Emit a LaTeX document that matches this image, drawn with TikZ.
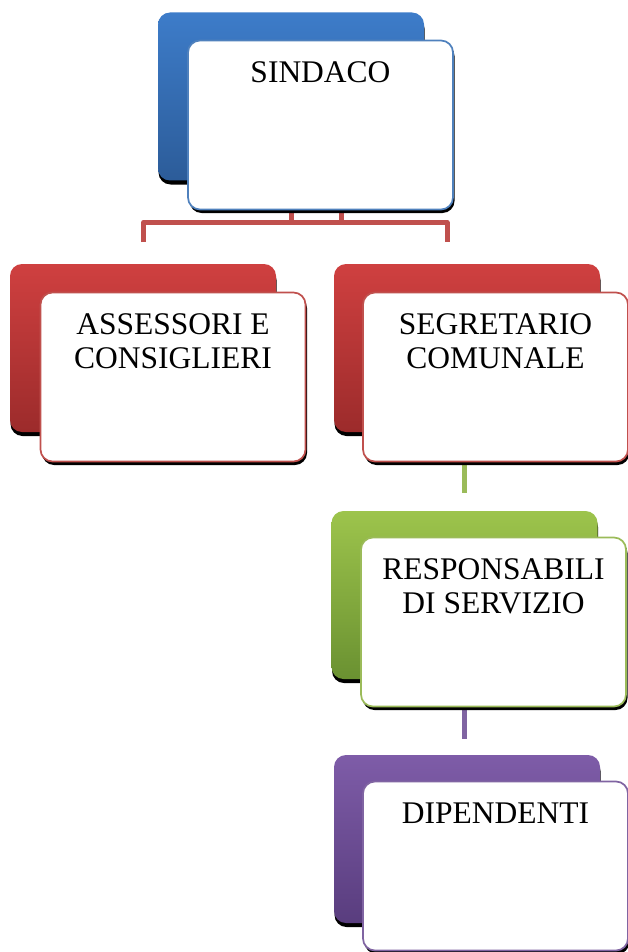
\documentclass[tikz,border=0pt]{standalone}
\usepackage{fontspec}
\setmainfont{Liberation Serif}
\usetikzlibrary{positioning}
\usetikzlibrary{shadows}
\usetikzlibrary{backgrounds}

\definecolor{blueline}{HTML}{4F81BD}
\definecolor{bluetop}{HTML}{3D7CC9}
\definecolor{bluebot}{HTML}{2C5C99}
\definecolor{redline}{HTML}{C0504D}
\definecolor{redtop}{HTML}{CF4040}
\definecolor{redbot}{HTML}{9C2B2B}
\definecolor{greenline}{HTML}{9BBB59}
\definecolor{greentop}{HTML}{9DC44C}
\definecolor{greenbot}{HTML}{6A9131}
\definecolor{purpleline}{HTML}{8064A2}
\definecolor{purpletop}{HTML}{7E5CA8}
\definecolor{purplebot}{HTML}{593D7E}

\begin{document}
\begin{tikzpicture}[x=1pt, y=-1pt,
        back_style/.style 2 args={rectangle, rounded corners=12pt, minimum width=266pt, minimum height=168pt, inner sep=0pt, top color=#1, bottom color=#2, draw=none, drop shadow={shadow xshift=0.5pt, shadow yshift=-4pt, opacity=1, fill=black}},
        front_style/.style={rectangle, rounded corners=12pt, minimum width=265pt, minimum height=169pt, inner sep=0pt, fill=white, draw=#1, line width=1.7pt, drop shadow={shadow xshift=1.5pt, shadow yshift=-3.5pt, opacity=1, fill=black}},
        text_style/.style={inner sep=0pt, align=center, font=\fontsize{31.5}{34}\selectfont},
        edge_style/.style={draw=#1, line width=5pt, line join=round}]

        \useasboundingbox (0,0) rectangle (628,952);

        \node [back_style={bluetop}{bluebot}](sindaco_back) at (291,96.5) {};
        \node [front_style=blueline](sindaco) at (320.5,125) {};
        \node [text_style, below=22pt of sindaco.north](sindaco_text) {SINDACO};

        \node [back_style={redtop}{redbot}](assessori_back) at (143,348) {};
        \node [front_style=redline](assessori) at (173,377) {};
        \node [text_style, below=22pt of assessori.north](assessori_text) {ASSESSORI E\\CONSIGLIERI};

        \node [back_style={redtop}{redbot}](segretario_back) at (467,348) {};
        \node [front_style=redline](segretario) at (495.5,377) {};
        \node [text_style, below=22pt of segretario.north](segretario_text) {SEGRETARIO\\COMUNALE};

        \node [back_style={greentop}{greenbot}](responsabili_back) at (464.5,595) {};
        \node [front_style=greenline](responsabili) at (493.5,622) {};
        \node [text_style, below=22pt of responsabili.north](responsabili_text) {RESPONSABILI\\DI SERVIZIO};

        \node [back_style={purpletop}{purplebot}](dipendenti_back) at (467,839) {};
        \node [front_style=purpleline](dipendenti) at (495.5,866) {};
        \node [text_style, below=22pt of dipendenti.north](dipendenti_text) {DIPENDENTI};

        \coordinate (left_end) at (143.5,242);
        \coordinate (right_end) at (447,242);
        \coordinate (red_bar) at ([yshift=-12pt]sindaco.south);

        \begin{scope}[on background layer]
            \draw [edge_style=redline] (left_end) |- (red_bar) -| (right_end);
            \draw [edge_style=redline] ([xshift=-29pt]sindaco.south) -- ([xshift=-29pt]red_bar);
            \draw [edge_style=redline] ([xshift=20.5pt]sindaco.south) -- ([xshift=20.5pt]red_bar);
            \draw [edge_style=greenline] (segretario.south -| responsabili_back.north) -- ++(0,31);
            \draw [edge_style=purpleline] (responsabili.south -| responsabili_back.north) -- ++(0,32);
        \end{scope}

        \end{tikzpicture}
\end{document}
